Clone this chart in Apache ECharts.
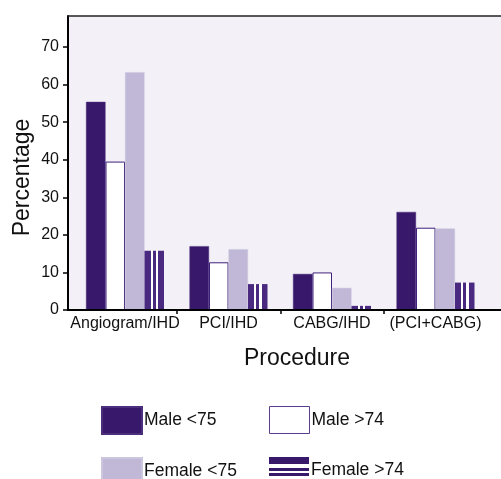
<!DOCTYPE html>
<html>
<head>
<meta charset="utf-8">
<script src="https://cdn.jsdelivr.net/npm/echarts@6/dist/echarts.min.js"></script>
<style>
html,body{margin:0;padding:0;background:#fff;}
#c{width:501px;height:479px;}
</style>
</head>
<body>
<div id="c"></div>
<script>
var categories = ['Angiogram/IHD', 'PCI/IHD', 'CABG/IHD', '(PCI+CABG)'];
var maleUnder75 = [55.4, 17.0, 9.6, 26.1];
var maleOver74 = [39.5, 12.7, 10.0, 21.9];
var femaleUnder75 = [63.3, 16.2, 5.9, 21.7];
var femaleOver74 = [15.8, 6.9, 1.1, 7.3];
var yTicks = [0, 10, 20, 30, 40, 50, 60, 70];
var categoryBoundaries = [1, 2, 3];

var FONT = 'Liberation Sans, Arial, Helvetica, sans-serif';
var DARK = '#38186b';
var LIGHT = '#c0b8d6';
var STRIPE = '#4a2a80';
var YMAX = 78.25;

var stripeFill = {
  type: 'linear', x: 0, y: 0, x2: 1, y2: 0,
  colorStops: [
    {offset: 0, color: STRIPE}, {offset: 0.31, color: STRIPE},
    {offset: 0.31, color: '#ffffff'}, {offset: 0.42, color: '#ffffff'},
    {offset: 0.42, color: STRIPE}, {offset: 0.58, color: STRIPE},
    {offset: 0.58, color: '#ffffff'}, {offset: 0.70, color: '#ffffff'},
    {offset: 0.70, color: STRIPE}, {offset: 1, color: STRIPE}
  ]
};

var chart = echarts.init(document.getElementById('c'), null, {renderer: 'canvas'});

var barW = 19.5;
function bar(name, data, itemStyle) {
  return {
    name: name, type: 'bar', data: data, xAxisIndex: 2, yAxisIndex: 1,
    barWidth: barW, barGap: '0%', itemStyle: itemStyle,
    emphasis: {disabled: true}, animation: false
  };
}

function legendItem(left, top, item) {
  return {
    left: left, top: top, orient: 'horizontal', itemWidth: 40, itemHeight: 27,
    selectedMode: false, symbolKeepAspect: false, padding: 0,
    textStyle: {fontFamily: FONT, fontSize: 17.5, color: '#111', padding: [0, 0, 0, -3]},
    data: [item]
  };
}

var option = {
  animation: false,
  grid: [
    {left: 68, right: 0, top: 16, bottom: 169, show: true, backgroundColor: '#f3f1f7', borderWidth: 0},
    {left: 73.25, right: 13.75, top: 16, bottom: 169}
  ],
  xAxis: [
    {
      type: 'value', gridIndex: 0, position: 'bottom', z: 10,
      min: (68 - 73.25) / 103.5, max: (501 - 73.25) / 103.5,
      splitLine: {show: false},
      axisLine: {show: true, onZero: false, lineStyle: {color: '#000', width: 2}},
      axisTick: {show: true, inside: false, length: 4, lineStyle: {color: '#000', width: 1.5}, customValues: categoryBoundaries},
      axisLabel: {show: false}
    },
    {
      type: 'value', gridIndex: 0, position: 'top', z: 10, min: 0, max: 1,
      splitLine: {show: false},
      axisLine: {show: true, onZero: false, lineStyle: {color: '#222', width: 1.5}},
      axisTick: {show: false}, axisLabel: {show: false}
    },
    {
      type: 'category', gridIndex: 1, data: categories,
      axisLine: {show: false}, axisTick: {show: false},
      axisLabel: {show: true, color: '#111', fontFamily: FONT, fontSize: 16, margin: 6, interval: 0}
    }
  ],
  yAxis: [
    {
      type: 'value', gridIndex: 0, min: 0, max: YMAX, z: 10,
      splitLine: {show: false},
      axisLine: {show: true, onZero: false, lineStyle: {color: '#000', width: 2}},
      axisTick: {show: true, length: 5, lineStyle: {color: '#000', width: 1.5}, customValues: yTicks},
      axisLabel: {show: true, color: '#111', fontFamily: FONT, fontSize: 16, margin: 9, customValues: yTicks,
        formatter: function (v) { return (v % 10 === 0) ? String(v) : ''; }}
    },
    {
      type: 'value', gridIndex: 1, min: 0, max: YMAX, show: false
    }
  ],
  legend: [
    legendItem(101, 406, {name: 'Male <75', icon: 'rect'}),
    legendItem(101, 457, {name: 'Female <75', icon: 'rect'}),
    legendItem(269, 406, {name: 'Male >74', icon: 'rect', itemStyle: {color: '#ffffff', borderColor: '#5a3d8f', borderWidth: 1}}),
    legendItem(269, 457, {name: 'Female >74', icon: 'path://M0,0H40V7H0Z M0,11H40V14H0Z M0,16H40V19H0Z M0,26.95H0.05V27H0Z',
      itemStyle: {color: DARK, borderWidth: 0}})
  ],
  graphic: [
    {
      type: 'text', x: 22.5, y: 177.5, rotation: Math.PI / 2,
      style: {text: 'Percentage', fontFamily: FONT, fontSize: 23, fill: '#111', align: 'center', verticalAlign: 'middle'}
    },
    {
      type: 'text', x: 297, y: 359,
      style: {text: 'Procedure', fontFamily: FONT, fontSize: 23, fill: '#111', align: 'center', verticalAlign: 'middle'}
    }
  ],
  series: [
    bar('Male <75', maleUnder75, {color: DARK, borderColor: '#4b2f7d', borderWidth: 0.5}),
    bar('Male >74', maleOver74, {color: '#ffffff', borderColor: '#40207a', borderWidth: 1}),
    bar('Female <75', femaleUnder75, {color: LIGHT, borderColor: '#cdc6df', borderWidth: 0.5}),
    bar('Female >74', femaleOver74, {color: stripeFill, borderWidth: 0})
  ]
};
chart.setOption(option);
</script>
</body>
</html>
